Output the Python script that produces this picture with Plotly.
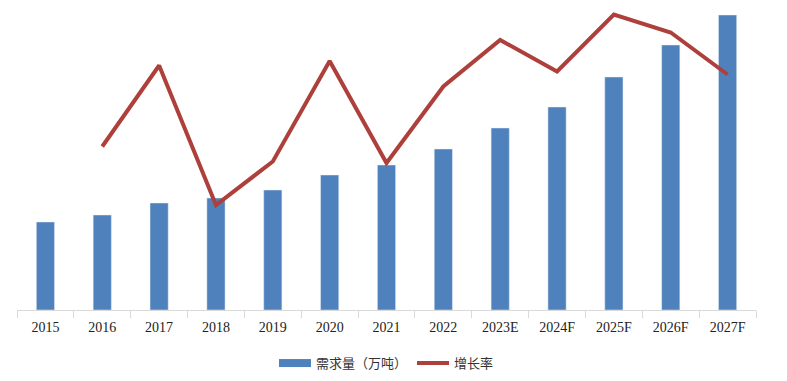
import plotly.graph_objects as go

years = ["2015", "2016", "2017", "2018", "2019", "2020", "2021", "2022",
         "2023E", "2024F", "2025F", "2026F", "2027F"]
demand = [88, 95, 107, 112, 120, 135, 145, 161, 182, 203, 233, 265, 295]
growth = [None, 10.9, 16.3, 7.0, 9.9, 16.6, 9.8, 14.9, 18.0, 15.9, 19.7, 18.5, 15.7]

BLUE = "#4F81BD"
RED = "#AE403C"

fig = go.Figure()
fig.add_trace(go.Bar(x=years, y=demand, name="需求量（万吨）", marker_color=BLUE,
                     showlegend=False, legendgroup="d"))
# legend proxy for bar series (wide swatch like the reference)
fig.add_trace(go.Scatter(x=[None], y=[None], mode="lines", name="需求量（万吨）",
                         line=dict(color=BLUE, width=8), legendgroup="d"))
fig.add_trace(go.Scatter(x=years, y=growth, mode="lines", name="增长率",
                         line=dict(color=RED, width=4), yaxis="y2",
                         connectgaps=False))

fig.update_layout(
    width=787, height=381,
    margin=dict(l=9, r=39, t=2, b=79),
    paper_bgcolor="white", plot_bgcolor="white",
    bargap=0.68,
    showlegend=True,
    legend=dict(orientation="h", x=0.5, xanchor="center", y=-0.177, yanchor="middle",
                font=dict(family="Noto Sans CJK SC", size=13, color="#333333"),
                itemwidth=32, traceorder="normal"),
    xaxis=dict(type="category", showline=True, linecolor="#D9D9D9", linewidth=1,
               ticks="outside", tickson="boundaries", ticklen=7, tickcolor="#D9D9D9",
               ticklabelstandoff=4,
               tickfont=dict(family="Liberation Serif", size=14, color="#222222"),
               showgrid=False, zeroline=False),
    yaxis=dict(range=[0, 300], visible=False, showgrid=False),
    yaxis2=dict(range=[0, 20], overlaying="y", side="right", visible=False, showgrid=False),
)

fig.write_html("out.html")
